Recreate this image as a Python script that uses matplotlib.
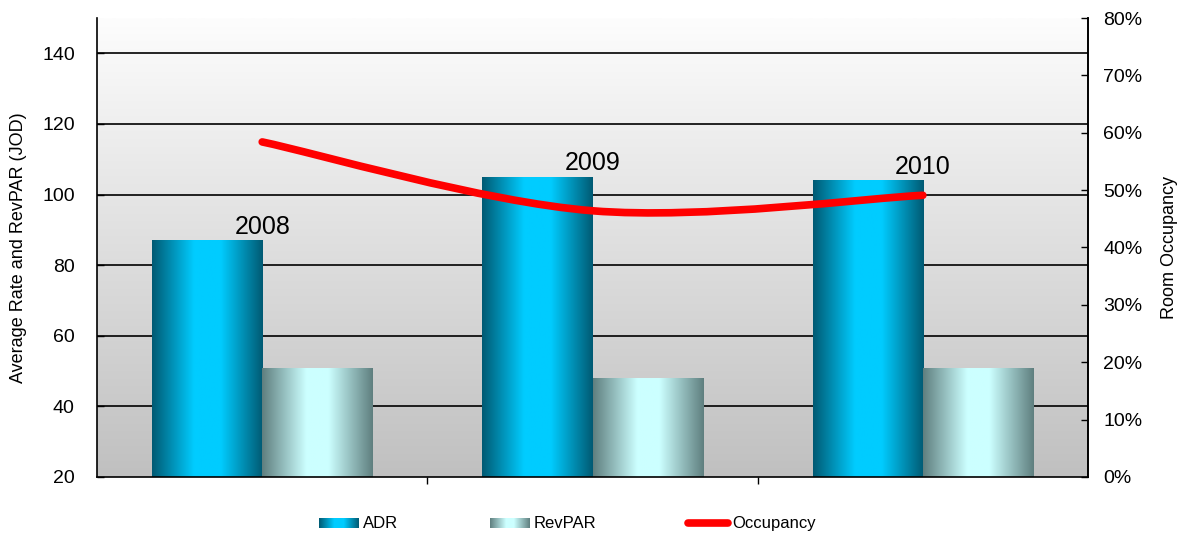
import numpy as np
import matplotlib
matplotlib.use("Agg")
import matplotlib.pyplot as plt
from matplotlib.colors import LinearSegmentedColormap
from matplotlib.path import Path
from matplotlib.patches import PathPatch
from matplotlib.legend_handler import HandlerBase
from matplotlib.image import BboxImage
from matplotlib.transforms import Bbox, TransformedBbox
from matplotlib.lines import Line2D
from matplotlib.ticker import PercentFormatter

plt.rcParams['font.family'] = ['Liberation Sans Narrow', 'Liberation Sans', 'DejaVu Sans']

# data
years = ['2008', '2009', '2010']
adr = [87, 105, 104]
revpar = [51, 48, 51]
occupancy = [58.4, 46.4, 49.1]   # percent

base = 20  # left axis minimum, bars rise from here

adr_cmap = LinearSegmentedColormap.from_list(
    'adr', [(0, '#005a73'), (0.38, '#00ccff'), (0.62, '#00ccff'), (1, '#005a73')])
rev_cmap = LinearSegmentedColormap.from_list(
    'rev', [(0, '#5f7f7f'), (0.40, '#ccffff'), (0.60, '#ccffff'), (1, '#5f7f7f')])
bg_cmap = LinearSegmentedColormap.from_list('bg', ['#c0c0c0', '#fdfdfd'])
hgrad = np.linspace(0, 1, 256).reshape(1, -1)

fig = plt.figure(figsize=(11.82, 5.33), dpi=100)
ax = fig.add_axes([0.0821, 0.1051, 0.8384, 0.8611])
ax2 = ax.twinx()

# background gradient of the plot area
ax.imshow(np.linspace(0, 1, 256).reshape(-1, 1), cmap=bg_cmap, origin='lower',
          extent=[0, 1, 0, 1], transform=ax.transAxes, aspect='auto', zorder=0)

x = np.arange(len(years))
w = 1 / 3
bars1 = ax.bar(x - w / 2, np.array(adr) - base, w, bottom=base, color='none', zorder=2)
bars2 = ax.bar(x + w / 2, np.array(revpar) - base, w, bottom=base, color='none', zorder=2)

for bars, cmap in [(bars1, adr_cmap), (bars2, rev_cmap)]:
    for b in bars:
        x0, y0 = b.get_x(), b.get_y()
        im = ax.imshow(hgrad, cmap=cmap, aspect='auto', zorder=2,
                       extent=[x0, x0 + b.get_width(), y0, y0 + b.get_height()])
        im.set_clip_path(b)

for i, yr in enumerate(years):
    ax.annotate(yr, (x[i], adr[i]), xytext=(0, 1), textcoords='offset points',
                ha='center', va='bottom', fontsize=18, family='Liberation Sans', zorder=4)

ax.set_xlim(-0.5, 2.5)
ax.set_ylim(20, 150)
ax.set_yticks(range(20, 141, 20))
ax.set_xticks([0.5, 1.5])
ax.set_xticklabels([])
ax.tick_params(axis='x', direction='out', length=5, width=1)
ax.tick_params(axis='y', direction='in', length=5, width=1, labelsize=14, pad=16)
for yv in range(40, 141, 20):
    ax.axhline(yv, color='black', lw=1.2, zorder=1)
for s in ['left', 'bottom', 'right']:
    ax.spines[s].set_linewidth(1.2)
ax.spines['top'].set_visible(False)
ax.set_ylabel('Average Rate and RevPAR (JOD)', fontsize=13)
ax.yaxis.set_label_coords(-0.071, 0.5)

# smoothed occupancy line (bezier through the three points)
pts = [(x[i], occupancy[i]) for i in range(len(years))]
verts = [pts[0]]
codes = [Path.MOVETO]
for i in range(len(pts) - 1):
    p_prev = pts[max(i - 1, 0)]
    p0, p1 = pts[i], pts[i + 1]
    p_next = pts[min(i + 2, len(pts) - 1)]
    c1 = (p0[0] + (p1[0] - p_prev[0]) / 6, p0[1] + (p1[1] - p_prev[1]) / 6)
    c2 = (p1[0] - (p_next[0] - p0[0]) / 6, p1[1] - (p_next[1] - p0[1]) / 6)
    verts += [c1, c2, p1]
    codes += [Path.CURVE4] * 3
ax2.add_patch(PathPatch(Path(verts, codes), fill=False, edgecolor='#ff0000',
                        lw=5.5, capstyle='round', zorder=5))
ax2.set_ylim(0, 80)
ax2.set_yticks(range(0, 81, 10))
ax2.yaxis.set_major_formatter(PercentFormatter(decimals=0))
ax2.tick_params(axis='y', direction='in', length=5, width=1, labelsize=14, pad=11)
for s in ['top', 'left', 'bottom']:
    ax2.spines[s].set_visible(False)
ax2.spines['right'].set_linewidth(1.2)
ax2.set_ylabel('Room Occupancy', fontsize=13)
ax2.yaxis.set_label_coords(1.074, 0.5)


class GradHandler(HandlerBase):
    def __init__(self, cmap):
        super().__init__()
        self.cmap = cmap

    def create_artists(self, legend, orig_handle, xdescent, ydescent, width,
                       height, fontsize, trans):
        bb = TransformedBbox(Bbox.from_bounds(-xdescent, -ydescent,
                                              width, height * 0.85), trans)
        img = BboxImage(bb, cmap=self.cmap, interpolation='bilinear')
        img.set_data(hgrad)
        return [img]


h_adr = plt.Rectangle((0, 0), 1, 1)
h_rev = plt.Rectangle((0, 0), 1, 1)
h_occ = Line2D([], [], color='#ff0000', lw=5.5, solid_capstyle='round')
fig.legend([h_adr, h_rev, h_occ], ['ADR', 'RevPAR', 'Occupancy'],
           handler_map={h_adr: GradHandler(adr_cmap), h_rev: GradHandler(rev_cmap)},
           loc='center', bbox_to_anchor=(0.48, 0.017), ncol=3, frameon=False,
           fontsize=12, handlelength=2.4, handletextpad=0.25, columnspacing=5.5)

fig.savefig('out.png', dpi=100)
